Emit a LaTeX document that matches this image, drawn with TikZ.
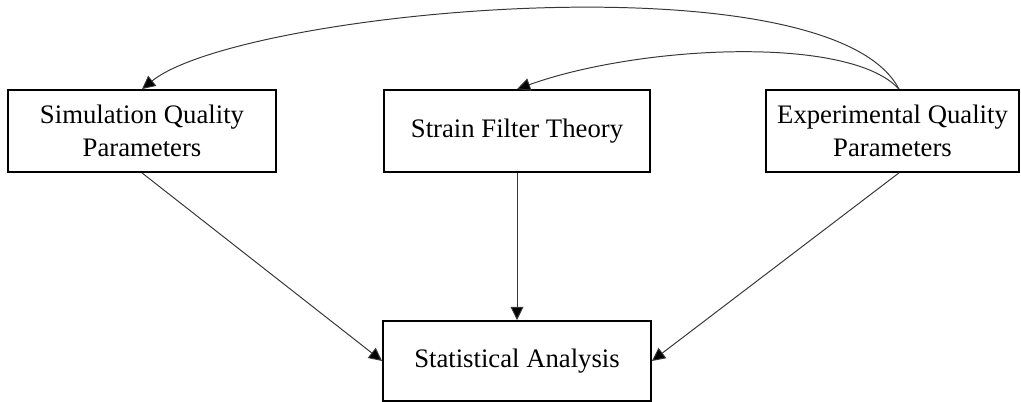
\documentclass[tikz,border=0pt]{standalone}
\usepackage{fontspec}
\setmainfont{Liberation Serif}
\usetikzlibrary{arrows.meta}
\definecolor{edgegray}{RGB}{55, 55, 55}

\begin{document}
\begin{tikzpicture}[
    block/.style={draw=black, line width=1.3pt, align=center, minimum height=2.05cm, inner sep=2pt,
                  font=\fontsize{19}{23.5}\selectfont},
    link/.style={draw=edgegray, line width=0.7pt, -{Triangle[length=0.33cm, width=0.32cm, fill=black]}}]
            \useasboundingbox                                                            (0.00, 0.00) rectangle (25.525,-10.05);
            \node[block, minimum width=6.70cm]                        (simquality)   at ( 3.550,-3.275) {Simulation Quality\\Parameters};
            \node[block, minimum width=6.65cm]                        (strainfilter) at (12.925,-3.275) {Strain Filter Theory};
            \node[block, minimum width=6.33cm]                        (expquality)   at (22.313,-3.275) {Experimental Quality\\Parameters};
            \node[block, minimum width=6.70cm, minimum height=2.00cm] (statistics)   at (12.925,-9.025) {Statistical Analysis};
            % feedback from the experiments
            \draw[link] ([xshift=0.16cm]expquality.north) .. controls (20.75, 1.125) and ( 6.00,-0.250) .. (simquality.north);
            \draw[link] ([xshift=0.16cm]expquality.north) .. controls (21.25,-0.875) and (16.00,-1.125) .. (strainfilter.north);
            % everything goes into the analysis
            \draw[link] (simquality.south)                 -- (statistics.west);
            \draw[link] (strainfilter.south)               -- (statistics.north);
            \draw[link] ([xshift=0.16cm]expquality.south)  -- (statistics.east);
\end{tikzpicture}
\end{document}
